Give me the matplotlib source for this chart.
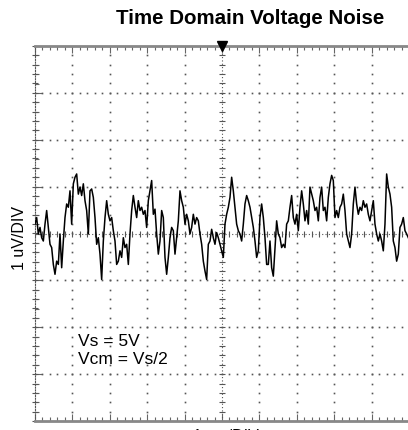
import numpy as np
import matplotlib.pyplot as plt
from matplotlib.ticker import MultipleLocator

# scope settings (per division)
t_per_div = 1.0      # ms/DIV
v_per_div = 1.0      # uV/DIV
n_hdiv = 10
n_vdiv = 8

dt = 0.04456  # ms
noise_uv = [
    0.20, 0.34, -0.01, 0.13, -0.09, -0.16, 0.20, 0.49, 0.13, -0.23,
    -0.30, -0.66, -0.87, -0.59, -0.66, -0.01, -0.73, -0.16, 0.34, 0.63,
    0.56, 0.91, 0.20, 1.06, 1.20, 1.27, 0.84, 0.99, 0.81, 1.06,
    0.70, 0.49, -0.01, 0.91, 0.95, 0.77, 0.34, -0.23, -0.09, -0.44,
    -0.98, -0.16, 0.34, 0.70, 0.41, 0.27, 0.34, 0.06, -0.16, -0.66,
    -0.59, -0.37, -0.51, -0.09, -0.30, -0.23, -0.66, -0.01, 0.49, 0.81,
    0.56, 0.34, 0.70, 0.49, 0.56, 0.41, 0.49, 0.13, 0.70, 0.91,
    1.13, 0.41, 0.52, -0.01, -0.44, -0.16, 0.49, 0.34, -0.51, -0.87,
    -0.51, -0.09, 0.13, 0.06, -0.44, -0.09, 0.27, 0.91, 0.70, 0.56,
    0.20, 0.41, 0.27, -0.01, 0.13, 0.41, 0.20, 0.34, 0.27, -0.01,
    -0.23, -0.59, -0.80, -0.98, -0.23, -0.16, 0.09, -0.09, -0.23, 0.02,
    -0.09, -0.23,
    -0.37, -0.51, 0.20, 0.41, 0.56, 0.77, 1.20, 0.91, 0.56, 0.20,
    0.06, -0.01, -0.16, 0.20, 0.63, 0.81, 0.70, 0.56, 0.34, 0.13,
    -0.16, -0.51, -0.37, 0.34, 0.63, 0.34, -0.09, -0.66, -0.66, -0.16,
    -0.73, -0.91, -0.30, 0.27, -0.01, -0.09, -0.30, -0.23, -0.30, 0.20,
    0.27, 0.56, 0.81, 0.34, 0.20, 0.41, 0.06, 0.56, 0.91, 0.63,
    0.27, 0.49, 0.20, 0.99, 0.84, 0.70, 0.49, 0.56, 0.27, 0.77,
    0.99, 0.49, 0.56, 0.27, 0.77, 1.06, 1.24, 1.13, 0.34, 0.49,
    0.34, 0.56, 0.63, 0.84, 0.49, -0.01, -0.16, -0.30, -0.01, 0.63,
    0.99, 0.63, 0.41, 0.56, 0.49, 0.70, 0.56, 0.63, 0.41, 0.27,
    0.49, 0.70, 0.20, -0.01, -0.16, -0.01, -0.16, -0.37, 0.20, 1.27,
    0.99, 0.84, 0.56, -0.16, -0.30, -0.59, -0.44, 0.13, 0.20, 0.34,
    0.06, -0.01, -0.09,
]
t_ms = np.arange(len(noise_uv)) * dt

notes = ['Vs = 5V', 'Vcm = Vs/2']

fig = plt.figure(figsize=(4.08, 4.31), dpi=100)
ax = fig.add_axes([35 / 408, 1 - 422 / 431, 374 / 408, 375 / 431])
xmax = n_hdiv * t_per_div
ymax = n_vdiv / 2 * v_per_div
ax.set_xlim(0, xmax)
ax.set_ylim(-ymax, ymax)

grid_c = '#555555'
# dotted graticule
for k in range(1, n_vdiv):
    yy = -ymax + k * v_per_div
    if yy == 0:
        continue
    xs = np.arange(0, xmax + 0.01, t_per_div / 5)
    ax.plot(xs, np.full_like(xs, yy), ls='none', marker='s', ms=1.2, mec='none', mfc=grid_c)
for k in range(1, n_hdiv):
    xx = k * t_per_div
    if xx == xmax / 2:
        continue
    ys = np.arange(-ymax, ymax + 0.01, v_per_div / 5)
    ax.plot(np.full_like(ys, xx), ys, ls='none', marker='s', ms=1.2, mec='none', mfc=grid_c)

# centre lines with small ticks
ax.axhline(0, color=grid_c, lw=0.8, ls=(0, (1, 2)))
ax.axvline(xmax / 2, color=grid_c, lw=0.8, ls=(0, (1, 2)))
xs = np.arange(0, xmax + 0.01, t_per_div / 5)
ax.plot(xs, np.zeros_like(xs), ls='none', marker='|', ms=4, mew=0.8, color=grid_c)
ys = np.arange(-ymax, ymax + 0.01, v_per_div / 5)
ax.plot(np.full_like(ys, xmax / 2), ys, ls='none', marker='_', ms=5, mew=0.8, color=grid_c)

# left edge dotted with ticks
ax.plot(np.zeros_like(ys), ys, ls='none', marker='_', ms=5, mew=0.8, color=grid_c, clip_on=False)

# frame
ax.spines['right'].set_visible(False)
ax.spines['left'].set_linestyle((0, (1, 1.5)))
ax.spines['left'].set_color(grid_c)
ax.spines['left'].set_linewidth(0.8)
for s in ['top', 'bottom']:
    ax.spines[s].set_color('#888888')
    ax.spines[s].set_linewidth(2)
ax.xaxis.set_major_locator(MultipleLocator(t_per_div))
ax.xaxis.set_minor_locator(MultipleLocator(t_per_div / 5))
ax.yaxis.set_major_locator(MultipleLocator(v_per_div))
ax.yaxis.set_minor_locator(MultipleLocator(v_per_div / 5))
ax.tick_params(which='both', direction='in', top=True, bottom=True, left=True, right=False,
               labelbottom=False, labelleft=False, color='#666666', width=0.8)
ax.tick_params(which='major', length=5)
ax.tick_params(which='minor', length=3)

# trigger marker
ax.plot([xmax / 2], [ymax], marker='v', ms=7, color='black', clip_on=False, zorder=5)

# trace
ax.plot(t_ms, noise_uv, color='black', lw=1.1, zorder=4)

# annotations
ax.text(1.15, -2.37, notes[0], fontsize=12.5, family='Liberation Sans', va='baseline')
ax.text(1.15, -2.77, notes[1], fontsize=12.5, family='Liberation Sans', va='baseline')

fig.text(250 / 408, 1 - 18 / 431, 'Time Domain Voltage Noise', ha='center', va='center',
         fontsize=14.8, fontweight='bold', family='Liberation Sans')
fig.text(20 / 408, 1 - 238 / 431, '1 uV/DIV', rotation=90, ha='center', va='center',
         fontsize=11.5, family='Liberation Sans')
fig.text(226 / 408, 1 - 429 / 431, '1 ms/DIV', ha='center', va='top',
         fontsize=11.5, family='Liberation Sans')

fig.savefig('out.png', dpi=100)
